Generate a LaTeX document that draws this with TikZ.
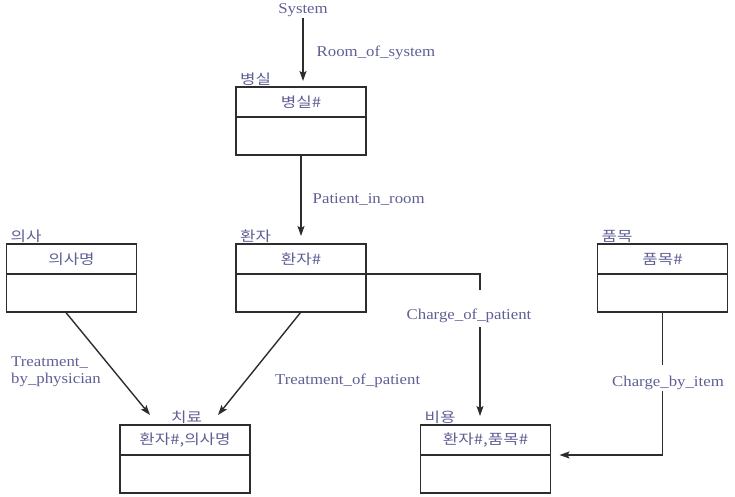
\documentclass[tikz,border=0pt]{standalone}
\usepackage{fontspec}
\setmainfont[FakeStretch=1.12]{Liberation Serif}
\newfontfamily\krfont[FakeStretch=1.2]{Noto Sans CJK KR}
\usetikzlibrary{arrows.meta, positioning, calc}
\definecolor{LineGray}{RGB}{45,45,45}
\definecolor{LabelBlue}{RGB}{95,95,150}

\begin{document}
\begin{tikzpicture}[x=1pt, y=-1pt,
  keypart/.style={draw=LineGray, line width=1.6pt, minimum width=130pt, minimum height=30pt, inner sep=0pt, outer sep=0pt, text=LabelBlue, font=\krfont\fontsize{14}{16}\selectfont},
  restpart/.style={draw=LineGray, line width=1.6pt, minimum width=130pt, minimum height=38pt, inner sep=0pt, outer sep=0pt},
  enttitle/.style={text=LabelBlue, font=\krfont\fontsize{14}{16}\selectfont, inner sep=1pt},
  rellabel/.style={text=LabelBlue, font=\fontsize{15}{17}\selectfont, inner sep=1pt},
  conn/.style={draw=LineGray, line width=1.4pt},
  arr/.style={conn, -{Stealth[length=10pt, width=7pt, inset=2pt]}}]
\useasboundingbox (0,0) rectangle (735,497);

\node (sys) [rellabel] at (303,10) {System};

\node (roomk) [keypart] at (301,102) {병실\#};
\node (roomr) [restpart, below=0pt of roomk] {};
\node (roomt) [enttitle, above right=0pt and 3pt of roomk.north west] {병실};

\node (patk) [keypart] at (301,259) {환자\#};
\node (patr) [restpart, below=0pt of patk] {};
\node (patt) [enttitle, above right=0pt and 3pt of patk.north west] {환자};

\node (dock) [keypart] at (71.5,259) {의사명};
\node (docr) [restpart, below=0pt of dock] {};
\node (doct) [enttitle, above right=0pt and 3pt of dock.north west] {의사};

\node (itk) [keypart] at (662.5,259) {품목\#};
\node (itr) [restpart, below=0pt of itk] {};
\node (itt) [enttitle, above right=0pt and 3pt of itk.north west] {품목};

\node (trk) [keypart] at (185,440) {환자\#,의사명};
\node (trr) [restpart, below=0pt of trk] {};
\node (trt) [enttitle, above right=0pt and 50pt of trk.north west] {치료};

\node (cok) [keypart] at (485.5,440) {환자\#,품목\#};
\node (cor) [restpart, below=0pt of cok] {};
\node (cot) [enttitle, above right=0pt and 3pt of cok.north west] {비용};

% connectors
\draw[arr, shorten >=6pt] (sys) -- (sys |- roomk.north) node[rellabel, midway, right=12pt] {Room\_of\_system};
\draw[arr, shorten >=8pt] (roomr) -- (patk) node[rellabel, midway, right=10pt] {Patient\_in\_room};

\coordinate (docin) at ($(trk.north west)+(30,-10)$);
\coordinate (patin) at ($(trk.north east)+(-32,-10)$);
\draw[arr] ($(docr.south)+(-6,0)$) -- (docin);
\draw[arr] (patr.south) -- (patin);
\node (tbp) [rellabel, align=left, anchor=west] at (10,372) {Treatment\_\\by\_physician};
\node (top) [rellabel, anchor=west] at (274,381) {Treatment\_of\_patient};

\coordinate (cp1) at (480,290);
\coordinate (cp2) at (480,327);
\draw[conn] (patk.south east) -| (cp1);
\node (cop) [rellabel] at (469,316) {Charge\_of\_patient};
\draw[arr, shorten >=9pt] (cp2) -- (cp2 |- cok.north);

\coordinate (cb1) at (662.5,365);
\coordinate (cb2) at (662.5,391);
\draw[conn] (itr.south) -- (cb1);
\node (cbi) [rellabel] at (668,383) {Charge\_by\_item};
\draw[arr, shorten >=9pt] (cb2) |- (cok.south east);
\end{tikzpicture}
\end{document}
